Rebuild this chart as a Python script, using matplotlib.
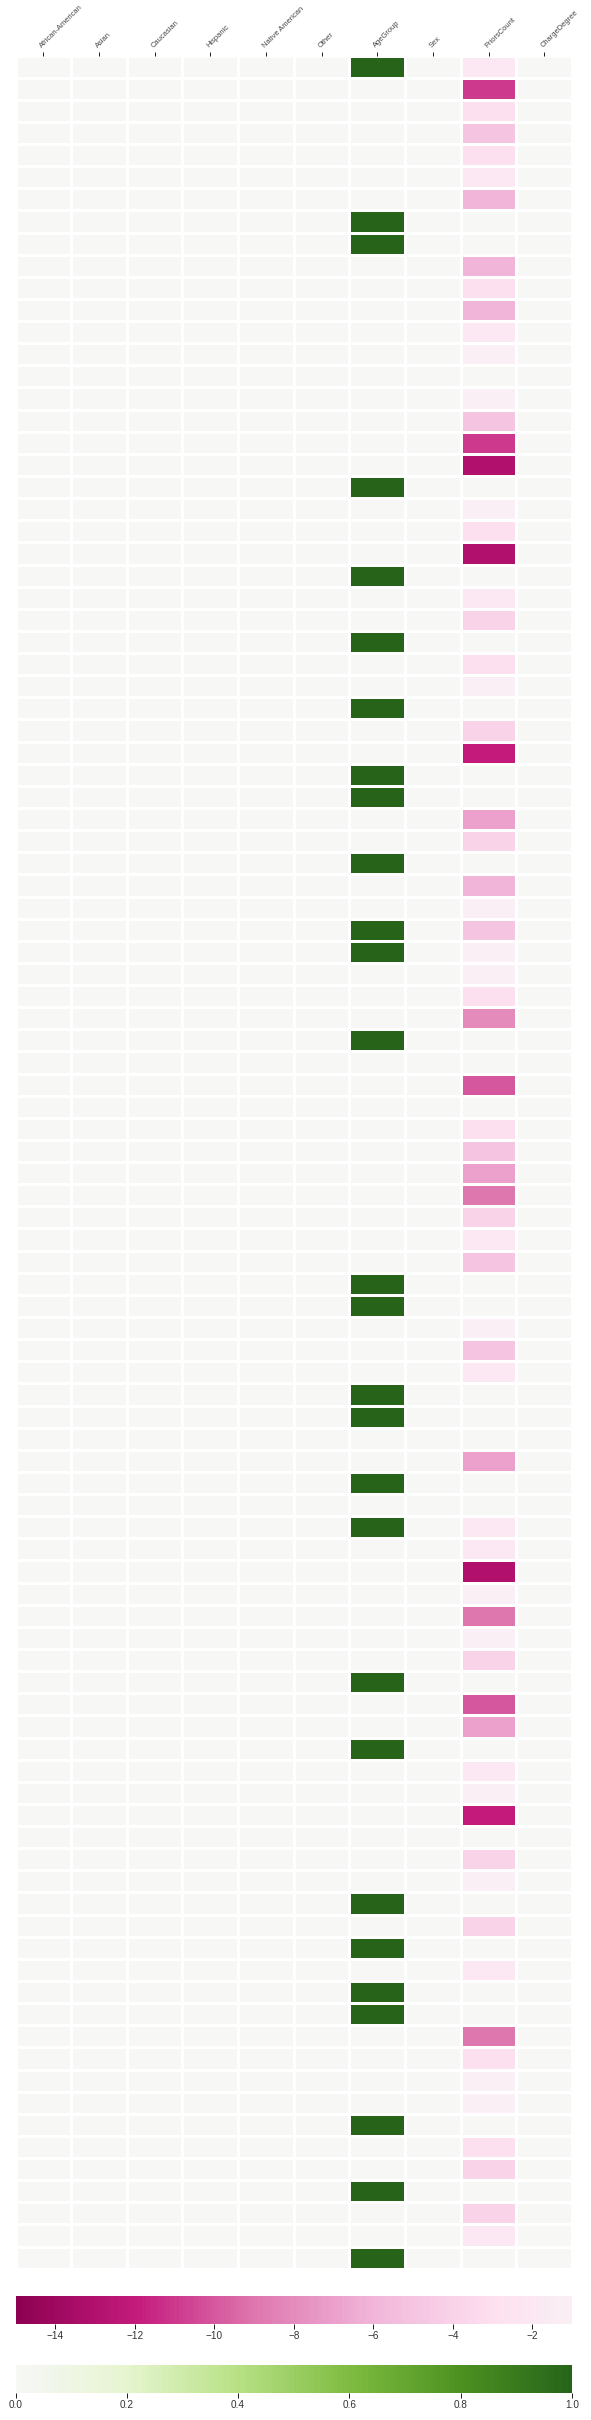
import matplotlib
matplotlib.use('Agg')
import matplotlib.pyplot as plt
import numpy as np
from matplotlib.colors import ListedColormap

plt.rcParams['font.family'] = ['Liberation Sans', 'DejaVu Sans']

columns = ['African-American', 'Asian', 'Caucasian', 'Hispanic',
           'Native American', 'Other', 'AgeGroup', 'Sex', 'PriorsCount',
           'ChargeDegree']

# one value per row, top to bottom
age_group = [1, 0, 0, 0, 0, 0, 0, 1, 1, 0,
             0, 0, 0, 0, 0, 0, 0, 0, 0, 1,
             0, 0, 0, 1, 0, 0, 1, 0, 0, 1,
             0, 0, 1, 1, 0, 0, 1, 0, 0, 1,
             1, 0, 0, 0, 1, 0, 0, 0, 0, 0,
             0, 0, 0, 0, 0, 1, 1, 0, 0, 0,
             1, 1, 0, 0, 1, 0, 1, 0, 0, 0,
             0, 0, 0, 1, 0, 0, 1, 0, 0, 0,
             0, 0, 0, 1, 0, 1, 0, 1, 1, 0,
             0, 0, 0, 1, 0, 0, 1, 0, 0, 1]

priors_count = [-2, -11, -3, -5, -3, -2, -6, 0, 0, -6,
                -3, -6, -2, -1, 0, -1, -5, -11, -13, 0,
                -1, -3, -13, 0, -2, -4, 0, -3, -1, 0,
                -4, -12, 0, 0, -7, -4, 0, -6, -1, -5,
                -1, -1, -3, -8, 0, 0, -10, 0, -3, -5,
                -7, -9, -4, -2, -5, 0, 0, -1, -5, -2,
                0, 0, 0, -7, 0, 0, -2, -2, -13, -1,
                -9, -1, -4, 0, -10, -7, 0, -2, -1, -12,
                0, -4, -1, 0, -4, 0, -2, 0, 0, -9,
                -3, -1, -1, 0, -3, -4, 0, -4, -2, 0]

W, H, DPI = 591, 2420, 72


def fx(px):
    return px / W


def fy(px):
    return 1 - px / H


data = np.zeros((len(age_group), len(columns)))
data[:, columns.index('AgeGroup')] = age_group
data[:, columns.index('PriorsCount')] = priors_count

neg = np.ma.masked_where(data >= 0, data)
pos = np.ma.masked_where(data < 0, data)

piyg = plt.cm.PiYG
pink_cmap = ListedColormap(piyg(np.linspace(0, 14 / 30, 256)))
green_cmap = ListedColormap(piyg(np.linspace(0.5, 1, 256)))

fig = plt.figure(figsize=(W / DPI, H / DPI), dpi=DPI)

left, right = 15.5, 572
ax = fig.add_axes([fx(left), fy(2268.7), fx(right - left), (2268.7 - 55.5) / H])
m_neg = ax.pcolormesh(neg, cmap=pink_cmap, vmin=-15, vmax=-1,
                      edgecolors='white', linewidth=1.2)
m_pos = ax.pcolormesh(pos, cmap=green_cmap, vmin=0, vmax=1,
                      edgecolors='white', linewidth=1.2)
ax.set_xlim(0, len(columns))
ax.set_ylim(len(age_group), 0)
ax.xaxis.tick_top()
ax.set_xticks(np.arange(len(columns)) + 0.5)
ax.set_xticklabels(columns, rotation=45, ha='left', rotation_mode='anchor',
                   fontsize=7.5, color='#444444')
ax.set_yticks([])
ax.tick_params(axis='x', length=4.5, width=1, color='#222222', pad=2)
for s in ax.spines.values():
    s.set_visible(False)

# colorbars
cb_h = 27.7 / H
cax1 = fig.add_axes([fx(left), fy(2323.7), fx(right - left), cb_h])
cax2 = fig.add_axes([fx(left), fy(2392.7), fx(right - left), cb_h])
for mesh, cax, ticks in [(m_neg, cax1, [-14, -12, -10, -8, -6, -4, -2]),
                         (m_pos, cax2, [0, 0.2, 0.4, 0.6, 0.8, 1.0])]:
    cb = fig.colorbar(mesh, cax=cax, orientation='horizontal', ticks=ticks)
    cb.outline.set_visible(False)
    cb.ax.tick_params(labelsize=10, labelcolor='#333333', length=5,
                      width=1, color='#222222', pad=2)

fig.savefig('out.png', dpi=DPI)
